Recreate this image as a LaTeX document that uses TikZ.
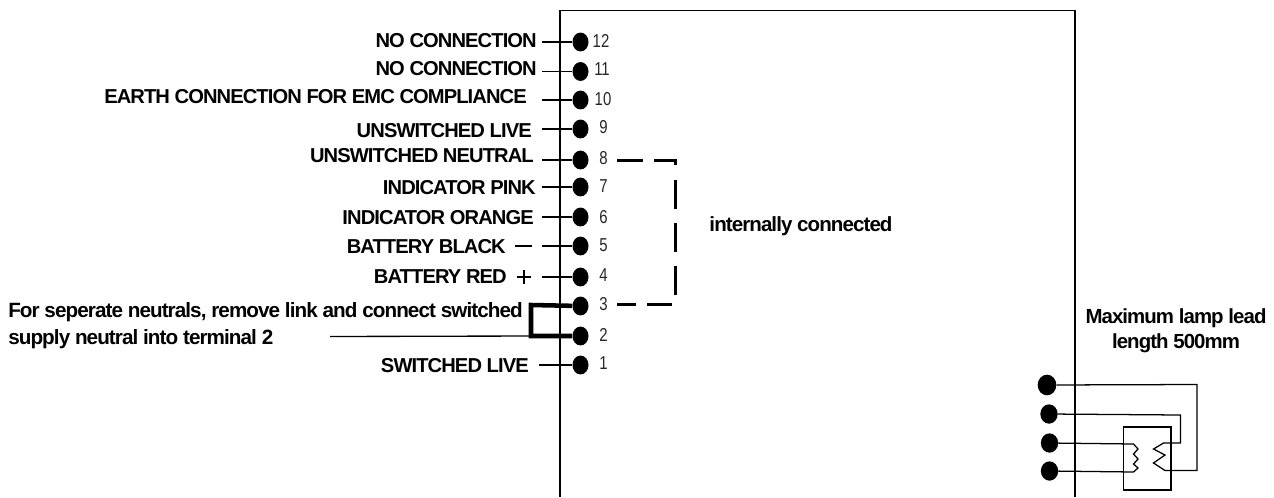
\documentclass[tikz,border=0pt]{standalone}
\usepackage{fontspec}
\setmainfont{Liberation Sans}
\newfontfamily\tightbold[LetterSpace=-4.5]{Liberation Sans Bold}
\newfontfamily\tightreg[FakeStretch=0.8]{Liberation Sans}
\usetikzlibrary{shapes.geometric}
\tikzset{
  lbl/.style={anchor=east,inner sep=0pt,font=\tightbold\fontsize{15.1}{17}\selectfont,text=black},
  txt/.style={anchor=west,inner sep=0pt,font=\tightbold\fontsize{15.3}{17}\selectfont,text=black},
  num/.style={inner sep=0pt,font=\tightreg\fontsize{14}{15}\selectfont,text=black!85},
  dot/.style={ellipse,fill=black,minimum width=12pt,minimum height=14.2pt,inner sep=0pt},
  wire/.style={draw=black,line width=0.95pt},
  lead/.style={draw=black,line width=1pt},
  dsh/.style={draw=black,line width=1.6pt},
  link/.style={draw=black,line width=3.4pt,line join=miter}
}
\begin{document}
\begin{tikzpicture}[x=0.75pt,y=-0.75pt]
\useasboundingbox (0,0) rectangle (1274,497);
% housing
\coordinate (bl) at (560,497);
\coordinate (tl) at (560,10.5);
\coordinate (tr) at (1075,10.5);
\coordinate (br) at (1075,497);
\draw[wire] (bl) -- (tl) -- (tr) -- (br);
% terminals
\foreach \n/\yy/\nx/\ny in {12/42/601/41,11/71.5/602/69,10/100/603/99,9/129/603.5/127,8/160/603.5/158,7/187/603.5/186,6/217/603.5/217,5/246/603.5/245,4/277/603.5/275,3/306/603.5/304,2/336/603.5/335,1/365/603.5/363}{
  \node[dot] (t\n) at (580.5,\yy) {};
  \node[num] (n\n) at (\nx,\ny) {\n};
}
% labels
\node[lbl] (l12) at (537,41) {NO CONNECTION};
\node[lbl] (l11) at (537,69) {NO CONNECTION};
\node[lbl] (l10) at (527,97) {EARTH CONNECTION FOR EMC COMPLIANCE};
\node[lbl] (l9) at (532,131) {UNSWITCHED LIVE};
\node[lbl] (l8) at (534,156) {UNSWITCHED NEUTRAL};
\node[lbl] (l7) at (536,188) {INDICATOR PINK};
\node[lbl] (l6) at (534,218) {INDICATOR ORANGE};
\node[lbl] (l5) at (506,247) {BATTERY BLACK};
\node[lbl] (l4) at (507,277) {BATTERY RED};
\node[lbl] (l1) at (529,366) {SWITCHED LIVE};
\node[txt,font=\tightbold\fontsize{15.5}{17}\selectfont] (s1) at (8,312.5) {For seperate neutrals, remove link and connect switched};
\node[txt,font=\tightbold\fontsize{15.5}{17}\selectfont] (s2) at (8,339.5) {supply neutral into terminal 2};
\node[lbl,anchor=center,font=\tightbold\fontsize{15.4}{17}\selectfont] (ic) at (801,226.5) {internally connected};
\node[txt,anchor=center] (m1) at (1176,318.5) {Maximum lamp lead};
\node[txt,anchor=center] (m2) at (1176,343.5) {length 500mm};
% leaders
\foreach \n/\sx in {12/541.5,11/541.5,10/541.5,9/541.5,8/541.5,7/541.5,6/541.5,5/541.5,4/541.5,1/539}{
  \coordinate (c\n) at (\sx,0 |- t\n);
  \draw[lead] (\sx,0 |- t\n) -- (t\n);
}
% signs
\coordinate (ma) at (515,246); \coordinate (mb) at (532,246);
\draw[lead] (ma) -- (mb);
\coordinate (pa) at (517,277); \coordinate (pb) at (531,277);
\coordinate (pc) at (524,270); \coordinate (pd) at (524,284);
\draw[lead] (pa) -- (pb); \draw[lead] (pc) -- (pd);
% link
\coordinate (lk3) at (531,305);
\coordinate (lk2) at (531,336);
\draw[link] (t3) -- (lk3) -- (lk2) -- (t2);
\coordinate (ls) at (330,336.5);
\draw[lead] (ls) -- (lk2);
% internal connection, dashed
\foreach \xa/\ya/\xb/\yb in {617/160.5/643/160.5,654/160.5/677/160.5,675.5/160.5/675.5/165,675.5/180/675.5/209,675.5/223/675.5/252,675.5/266/675.5/295,617/304.5/636/304.5,647/304.5/672/304.5}{
  \draw[dsh] (\xa,\ya) -- (\xb,\yb);
}
% lamp
\node[dot,minimum width=14pt,minimum height=15.5pt] (a) at (1047,385) {};
\node[dot,minimum width=13pt,minimum height=14.5pt] (b) at (1049,414) {};
\node[dot,minimum width=13pt,minimum height=14.5pt] (c) at (1049.5,443) {};
\node[dot,minimum width=13pt,minimum height=14.5pt] (d) at (1049.5,471) {};
\coordinate (bx1) at (1123.5,427);
\coordinate (bx2) at (1171,490);
\draw[wire] (bx1) rectangle (bx2);
\coordinate (a1) at (1197,384.5); \coordinate (a2) at (1197,470.5);
\coordinate (b1) at (1180.5,415); \coordinate (b2) at (1180.5,443);
\draw[wire] (a) -- (1047,384.5 -| a1) -- (a2) -- (1165,470.5) -- (1153.5,463) -- (1165,455) -- (1153.5,449) -- (1163.5,443) -- (b2) -- (b1) -- (b);
\draw[wire] (c) -- (1133.5,444) -- (1138,449) -- (1133.5,454) -- (1138,459) -- (1133.5,464) -- (1138,468) -- (1133.5,472) -- (d);
\end{tikzpicture}
\end{document}
